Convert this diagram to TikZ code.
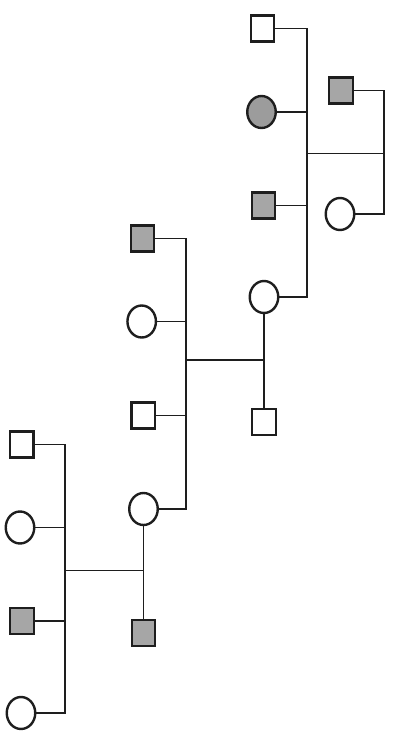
\documentclass[tikz,border=0pt]{standalone}
\usetikzlibrary{shapes.geometric}
\definecolor{shade}{HTML}{A6A6A6}
\definecolor{shadec}{HTML}{9C9C9C}
\definecolor{ink}{HTML}{1E1E1E}
\tikzset{
  male/.style={draw=ink, line width=2.4pt, rectangle, minimum width=23.5pt, minimum height=26pt, inner sep=0pt, fill=white},
  female/.style={draw=ink, line width=2.4pt, ellipse, minimum width=28.5pt, minimum height=32pt, inner sep=0pt, fill=white},
  aff/.style={fill=shade},
  affc/.style={fill=shadec},
  conn/.style={draw=ink, line width=1.3pt}
}
\begin{document}
\begin{tikzpicture}[x=1pt,y=-1pt]
\useasboundingbox (0,0) rectangle (393,732);
% vertical line positions
\coordinate (vA) at (307,0);
\coordinate (vS) at (384,0);
\coordinate (vB) at (186,0);
\coordinate (vC) at (65,0);
\coordinate (mA) at (0,153.3);
\coordinate (mB) at (0,360);
\coordinate (mC) at (0,570.3);
% group A
\node[male] (a1) at (262.5,28.5) {};
\node[female,affc] (a2) at (261.5,112) {};
\node[male,aff] (a3) at (263.5,205.5) {};
\node[female] (a4) at (264,297) {};
\node[male,aff] (b1) at (341,90.5) {};
\node[female] (b2) at (340,214) {};
% group B
\node[male,aff] (c1) at (142.5,238.5) {};
\node[female] (c2) at (141.7,321.5) {};
\node[male] (c3) at (143.3,415.5) {};
\node[female] (c4) at (143.5,509) {};
\node[male] (d) at (264,422) {};
% group C
\node[male] (e1) at (21.7,444.5) {};
\node[female] (e2) at (20,527.5) {};
\node[male,aff] (e3) at (22,621) {};
\node[female] (e4) at (21,713) {};
\node[male,aff] (f) at (143.5,633) {};
% connectors group A
\draw[conn] (a1.east) -- (a1.east -| vA) -- (a4.east -| vA) -- (a4.east);
\draw[conn] (a2.east) -- (a2.east -| vA);
\draw[conn] (a3.east) -- (a3.east -| vA);
\draw[conn] (b1.east) -- (b1.east -| vS) -- (b2.east -| vS) -- (b2.east);
\draw[conn] (mA -| vA) -- (mA -| vS);
% group B
\draw[conn] (c1.east) -- (c1.east -| vB) -- (c4.east -| vB) -- (c4.east);
\draw[conn] (c2.east) -- (c2.east -| vB);
\draw[conn] (c3.east) -- (c3.east -| vB);
\draw[conn] (mB -| vB) -- (mB -| a4.south);
\draw[conn] (a4.south) -- (d.north);
% group C
\draw[conn] (e1.east) -- (e1.east -| vC) -- (e4.east -| vC) -- (e4.east);
\draw[conn] (e2.east) -- (e2.east -| vC);
\draw[conn] (e3.east) -- (e3.east -| vC);
\draw[conn] (mC -| vC) -- (mC -| c4.south);
\draw[conn] (c4.south) -- (f.north);
\end{tikzpicture}
\end{document}
